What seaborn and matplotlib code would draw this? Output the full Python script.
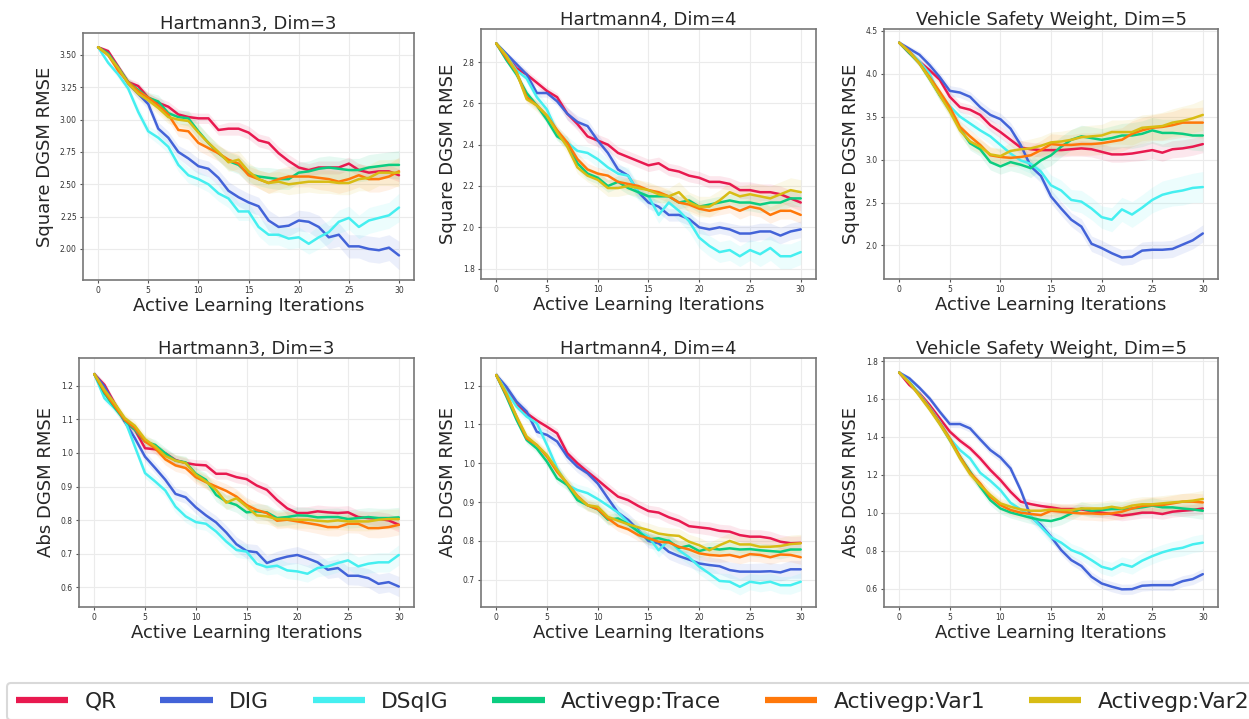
import numpy as np
import pandas as pd
import matplotlib
matplotlib.use("Agg")
import matplotlib.pyplot as plt
from matplotlib.lines import Line2D
import seaborn as sns

# ---------------- data ----------------
iterations = list(range(31))
methods = ["QR", "DIG", "DSqIG", "Activegp:Trace", "Activegp:Var1", "Activegp:Var2"]
colors = ["#E8194F", "#4363D8", "#45EFF0", "#0BCD80", "#FF780A", "#D8BC14"]
titles = ["Hartmann3, Dim=3", "Hartmann4, Dim=4", "Vehicle Safety Weight, Dim=5"]
ylabels = ["Square DGSM RMSE", "Abs DGSM RMSE"]
xlabel = "Active Learning Iterations"

# Square DGSM RMSE, Hartmann3
sq_h3_qr    = [3.56,3.53,3.41,3.29,3.26,3.17,3.13,3.10,3.04,3.02,3.01,3.01,2.92,2.93,2.93,2.90,2.84,2.82,2.74,2.68,2.63,2.61,2.63,2.63,2.63,2.66,2.61,2.59,2.60,2.60,2.57]
sq_h3_dig   = [3.56,3.51,3.40,3.28,3.20,3.12,2.93,2.86,2.75,2.70,2.64,2.62,2.55,2.45,2.40,2.36,2.33,2.22,2.17,2.18,2.22,2.21,2.17,2.09,2.11,2.02,2.02,2.00,1.99,2.01,1.95]
sq_h3_dsqig = [3.56,3.44,3.35,3.24,3.06,2.91,2.86,2.79,2.65,2.57,2.54,2.50,2.43,2.39,2.29,2.29,2.17,2.11,2.11,2.08,2.09,2.04,2.09,2.13,2.21,2.24,2.17,2.22,2.24,2.26,2.32]
sq_h3_trace = [3.56,3.51,3.40,3.29,3.23,3.17,3.14,3.05,3.02,3.01,2.91,2.82,2.74,2.68,2.65,2.58,2.56,2.55,2.54,2.54,2.59,2.60,2.62,2.63,2.62,2.61,2.61,2.63,2.64,2.65,2.65]
sq_h3_var1  = [3.56,3.50,3.38,3.29,3.22,3.17,3.11,3.04,2.92,2.91,2.82,2.78,2.74,2.69,2.66,2.57,2.54,2.51,2.54,2.56,2.56,2.56,2.55,2.54,2.52,2.54,2.57,2.54,2.54,2.56,2.60]
sq_h3_var2  = [3.56,3.50,3.40,3.28,3.20,3.15,3.09,3.02,3.00,2.99,2.90,2.82,2.75,2.67,2.69,2.60,2.54,2.51,2.52,2.50,2.51,2.52,2.52,2.52,2.51,2.51,2.54,2.55,2.59,2.59,2.59]

# Square DGSM RMSE, Hartmann4
sq_h4_qr    = [2.89,2.83,2.77,2.74,2.70,2.66,2.63,2.55,2.50,2.44,2.42,2.40,2.36,2.34,2.32,2.30,2.31,2.28,2.27,2.25,2.24,2.22,2.22,2.21,2.18,2.18,2.17,2.17,2.16,2.14,2.12]
sq_h4_dig   = [2.89,2.84,2.79,2.74,2.65,2.65,2.61,2.55,2.51,2.49,2.42,2.36,2.28,2.25,2.17,2.12,2.10,2.06,2.06,2.04,2.00,1.99,2.00,1.99,1.97,1.97,1.98,1.98,1.96,1.98,1.99]
sq_h4_dsqig = [2.89,2.83,2.76,2.72,2.63,2.57,2.46,2.41,2.37,2.36,2.33,2.29,2.26,2.25,2.17,2.15,2.06,2.12,2.08,2.03,1.95,1.91,1.88,1.89,1.86,1.89,1.87,1.90,1.86,1.86,1.88]
sq_h4_trace = [2.89,2.81,2.74,2.65,2.59,2.52,2.44,2.41,2.31,2.26,2.24,2.20,2.22,2.19,2.17,2.15,2.15,2.15,2.12,2.13,2.10,2.11,2.12,2.13,2.12,2.12,2.11,2.12,2.12,2.14,2.14]
sq_h4_var1  = [2.89,2.82,2.75,2.63,2.59,2.54,2.47,2.41,2.33,2.28,2.26,2.25,2.22,2.21,2.20,2.18,2.17,2.15,2.12,2.11,2.09,2.08,2.09,2.10,2.08,2.10,2.09,2.06,2.08,2.08,2.06]
sq_h4_var2  = [2.89,2.83,2.75,2.62,2.59,2.54,2.46,2.39,2.29,2.25,2.23,2.19,2.19,2.20,2.19,2.18,2.16,2.15,2.17,2.12,2.10,2.10,2.13,2.17,2.15,2.16,2.15,2.14,2.16,2.18,2.17]

# Square DGSM RMSE, Vehicle Safety Weight
sq_vs_qr    = [4.36,4.24,4.14,4.04,3.93,3.73,3.61,3.58,3.52,3.40,3.32,3.23,3.14,3.12,3.11,3.11,3.11,3.12,3.13,3.12,3.09,3.06,3.06,3.07,3.09,3.11,3.08,3.12,3.13,3.15,3.18]
sq_vs_dig   = [4.36,4.29,4.22,4.10,3.96,3.80,3.78,3.73,3.61,3.52,3.47,3.36,3.17,2.92,2.81,2.57,2.43,2.30,2.22,2.02,1.97,1.91,1.86,1.87,1.94,1.95,1.95,1.96,2.01,2.06,2.14]
sq_vs_dsqig = [4.36,4.26,4.14,4.00,3.75,3.62,3.50,3.42,3.34,3.27,3.17,3.07,2.99,2.95,2.86,2.70,2.64,2.53,2.51,2.43,2.33,2.30,2.42,2.36,2.44,2.53,2.59,2.62,2.64,2.67,2.68]
sq_vs_trace = [4.36,4.24,4.12,3.94,3.75,3.58,3.36,3.19,3.12,2.97,2.92,2.97,2.94,2.90,2.99,3.05,3.15,3.23,3.27,3.25,3.23,3.25,3.28,3.28,3.30,3.34,3.31,3.31,3.30,3.28,3.28]
sq_vs_var1  = [4.36,4.26,4.12,3.96,3.79,3.61,3.38,3.27,3.17,3.05,3.03,3.02,3.03,3.05,3.11,3.18,3.17,3.17,3.18,3.18,3.19,3.21,3.23,3.30,3.34,3.37,3.38,3.40,3.43,3.43,3.43]
sq_vs_var2  = [4.36,4.25,4.12,3.94,3.75,3.56,3.34,3.21,3.15,3.06,3.04,3.10,3.12,3.13,3.16,3.20,3.21,3.23,3.26,3.27,3.28,3.32,3.32,3.32,3.37,3.38,3.39,3.43,3.45,3.48,3.52]

# Abs DGSM RMSE, Hartmann3
ab_h3_qr    = [1.235,1.203,1.148,1.094,1.069,1.014,1.011,0.999,0.979,0.970,0.965,0.963,0.938,0.938,0.928,0.922,0.903,0.890,0.860,0.835,0.821,0.821,0.826,0.823,0.821,0.823,0.809,0.806,0.804,0.799,0.786]
ab_h3_dig   = [1.235,1.198,1.143,1.094,1.044,0.989,0.955,0.920,0.878,0.868,0.838,0.814,0.793,0.763,0.728,0.708,0.704,0.672,0.683,0.691,0.696,0.686,0.674,0.652,0.657,0.634,0.634,0.627,0.610,0.615,0.602]
ab_h3_dsqig = [1.235,1.163,1.133,1.099,1.019,0.940,0.915,0.888,0.840,0.811,0.794,0.789,0.766,0.736,0.711,0.706,0.670,0.660,0.664,0.650,0.647,0.640,0.657,0.662,0.672,0.680,0.662,0.670,0.674,0.674,0.696]
ab_h3_trace = [1.235,1.178,1.136,1.097,1.069,1.034,1.024,0.999,0.977,0.972,0.938,0.920,0.875,0.855,0.845,0.823,0.826,0.823,0.806,0.809,0.814,0.813,0.808,0.809,0.809,0.803,0.806,0.809,0.806,0.806,0.808]
ab_h3_var1  = [1.235,1.183,1.140,1.099,1.074,1.034,1.014,0.981,0.963,0.955,0.928,0.913,0.900,0.887,0.870,0.845,0.830,0.821,0.798,0.801,0.796,0.791,0.786,0.779,0.779,0.789,0.789,0.776,0.776,0.779,0.786]
ab_h3_var2  = [1.235,1.188,1.148,1.104,1.081,1.041,1.019,0.991,0.977,0.970,0.935,0.915,0.890,0.852,0.865,0.840,0.814,0.811,0.803,0.803,0.801,0.801,0.798,0.796,0.799,0.796,0.796,0.796,0.801,0.803,0.803]

# Abs DGSM RMSE, Hartmann4
ab_h4_qr    = [1.227,1.189,1.150,1.129,1.110,1.094,1.077,1.026,1.000,0.978,0.957,0.935,0.914,0.905,0.890,0.877,0.873,0.861,0.852,0.838,0.835,0.832,0.826,0.824,0.815,0.811,0.811,0.807,0.798,0.794,0.795]
ab_h4_dig   = [1.227,1.197,1.159,1.133,1.081,1.073,1.056,1.017,0.991,0.974,0.948,0.910,0.873,0.854,0.828,0.800,0.794,0.772,0.761,0.752,0.742,0.738,0.735,0.725,0.721,0.721,0.721,0.722,0.719,0.727,0.727]
ab_h4_dsqig = [1.227,1.185,1.146,1.120,1.103,1.047,0.987,0.944,0.931,0.923,0.908,0.891,0.873,0.847,0.825,0.811,0.776,0.802,0.776,0.758,0.734,0.716,0.697,0.695,0.682,0.695,0.691,0.695,0.686,0.686,0.695]
ab_h4_trace = [1.227,1.172,1.112,1.060,1.038,1.004,0.961,0.944,0.905,0.892,0.881,0.855,0.858,0.843,0.824,0.804,0.807,0.800,0.782,0.788,0.774,0.781,0.778,0.781,0.778,0.779,0.776,0.774,0.772,0.778,0.778]
ab_h4_var1  = [1.227,1.176,1.120,1.064,1.047,1.017,0.978,0.948,0.916,0.892,0.882,0.858,0.839,0.830,0.815,0.807,0.798,0.796,0.785,0.778,0.768,0.764,0.762,0.764,0.758,0.766,0.764,0.758,0.765,0.764,0.758]
ab_h4_var2  = [1.227,1.180,1.120,1.069,1.047,1.021,0.983,0.948,0.914,0.892,0.888,0.862,0.852,0.843,0.835,0.828,0.819,0.815,0.813,0.798,0.789,0.776,0.789,0.800,0.791,0.791,0.785,0.785,0.787,0.792,0.794]

# Abs DGSM RMSE, Vehicle Safety Weight
ab_vs_qr    = [1.739,1.674,1.630,1.568,1.498,1.428,1.380,1.340,1.287,1.226,1.173,1.111,1.059,1.046,1.036,1.029,1.020,1.020,1.018,1.009,1.001,0.994,0.985,0.992,1.001,1.001,0.994,1.006,1.011,1.015,1.023]
ab_vs_dig   = [1.739,1.709,1.659,1.603,1.533,1.468,1.468,1.445,1.387,1.331,1.292,1.234,1.120,0.980,0.936,0.874,0.804,0.751,0.720,0.663,0.628,0.611,0.597,0.598,0.616,0.619,0.619,0.619,0.640,0.651,0.677]
ab_vs_dsqig = [1.739,1.691,1.626,1.556,1.480,1.392,1.331,1.287,1.211,1.169,1.120,1.053,1.018,0.983,0.927,0.871,0.843,0.804,0.783,0.751,0.716,0.702,0.730,0.716,0.748,0.772,0.792,0.807,0.816,0.834,0.843]
ab_vs_trace = [1.739,1.686,1.621,1.551,1.471,1.384,1.296,1.217,1.138,1.067,1.023,1.002,0.988,0.974,0.962,0.957,0.971,0.997,1.023,1.011,1.015,1.020,1.020,1.023,1.029,1.038,1.029,1.029,1.023,1.018,1.011]
ab_vs_var1  = [1.739,1.686,1.621,1.551,1.475,1.392,1.296,1.211,1.155,1.085,1.041,1.015,1.001,0.994,0.988,1.011,1.006,1.001,0.997,0.997,0.994,0.997,1.006,1.023,1.036,1.041,1.041,1.050,1.059,1.059,1.055]
ab_vs_var2  = [1.739,1.686,1.616,1.545,1.468,1.384,1.287,1.204,1.146,1.094,1.050,1.032,1.018,1.011,1.011,1.018,1.015,1.015,1.023,1.023,1.023,1.032,1.023,1.038,1.045,1.045,1.050,1.055,1.059,1.064,1.073]

# confidence band half-widths (estimated), narrow / wide per panel
sq_h3_band_n = [0.01,0.02,0.02,0.03,0.03,0.03,0.04,0.04,0.04,0.04,0.04,0.04,0.04,0.05,0.05,0.05,0.05,0.05,0.05,0.05,0.05,0.05,0.05,0.05,0.05,0.05,0.05,0.05,0.05,0.05,0.05]
sq_h3_band_w = [0.01,0.02,0.03,0.03,0.04,0.04,0.05,0.05,0.05,0.06,0.06,0.06,0.06,0.07,0.07,0.07,0.07,0.08,0.08,0.08,0.08,0.08,0.09,0.09,0.09,0.09,0.09,0.10,0.10,0.10,0.11]
sq_h4_band_n = [0.01,0.01,0.02,0.02,0.02,0.02,0.02,0.03,0.03,0.03,0.03,0.03,0.03,0.03,0.03,0.03,0.03,0.03,0.03,0.03,0.03,0.03,0.03,0.03,0.04,0.04,0.04,0.04,0.04,0.04,0.04]
sq_h4_band_w = [0.01,0.02,0.02,0.02,0.03,0.03,0.03,0.03,0.03,0.03,0.04,0.04,0.04,0.04,0.04,0.04,0.04,0.04,0.05,0.05,0.05,0.05,0.05,0.05,0.05,0.05,0.06,0.06,0.06,0.06,0.06]
sq_vs_band_n = [0.02,0.03,0.04,0.05,0.05,0.06,0.06,0.06,0.07,0.07,0.07,0.07,0.08,0.08,0.08,0.08,0.08,0.08,0.09,0.09,0.09,0.09,0.09,0.09,0.10,0.10,0.10,0.10,0.10,0.10,0.10]
sq_vs_band_w = [0.02,0.03,0.04,0.05,0.06,0.07,0.07,0.08,0.08,0.09,0.09,0.10,0.10,0.11,0.11,0.12,0.12,0.12,0.13,0.13,0.13,0.14,0.14,0.15,0.15,0.15,0.16,0.16,0.17,0.17,0.18]
ab_h3_band_n = [0.008,0.010,0.010,0.012,0.012,0.012,0.014,0.014,0.014,0.015,0.015,0.016,0.016,0.016,0.017,0.017,0.017,0.018,0.018,0.018,0.018,0.019,0.019,0.019,0.020,0.020,0.020,0.020,0.021,0.021,0.021]
ab_h3_band_w = [0.008,0.010,0.012,0.013,0.014,0.015,0.016,0.017,0.018,0.018,0.019,0.020,0.020,0.021,0.022,0.022,0.023,0.023,0.024,0.024,0.025,0.025,0.026,0.026,0.027,0.027,0.028,0.028,0.029,0.029,0.030]
ab_h4_band_n = [0.008,0.009,0.010,0.010,0.011,0.012,0.012,0.013,0.013,0.013,0.014,0.014,0.014,0.015,0.015,0.015,0.015,0.016,0.016,0.016,0.016,0.017,0.017,0.017,0.017,0.018,0.018,0.018,0.018,0.018,0.018]
ab_h4_band_w = [0.008,0.010,0.011,0.012,0.013,0.014,0.014,0.015,0.015,0.016,0.016,0.017,0.017,0.017,0.018,0.018,0.018,0.019,0.019,0.019,0.020,0.020,0.020,0.021,0.021,0.021,0.022,0.022,0.022,0.023,0.023]
ab_vs_band_n = [0.010,0.012,0.014,0.016,0.017,0.018,0.019,0.020,0.021,0.022,0.022,0.023,0.023,0.024,0.024,0.025,0.025,0.025,0.026,0.026,0.026,0.027,0.027,0.027,0.028,0.028,0.028,0.029,0.029,0.029,0.030]
ab_vs_band_w = [0.010,0.013,0.016,0.018,0.020,0.022,0.023,0.025,0.026,0.027,0.028,0.029,0.030,0.031,0.032,0.033,0.034,0.034,0.035,0.036,0.037,0.037,0.038,0.039,0.040,0.041,0.041,0.042,0.043,0.044,0.045]

panels = [
    (0, 0, [sq_h3_qr, sq_h3_dig, sq_h3_dsqig, sq_h3_trace, sq_h3_var1, sq_h3_var2],
     [sq_h3_band_n, sq_h3_band_w, sq_h3_band_w, sq_h3_band_w, sq_h3_band_w, sq_h3_band_w],
     (1.76, 3.67), [2.00, 2.25, 2.50, 2.75, 3.00, 3.25, 3.50], "{:.2f}"),
    (0, 1, [sq_h4_qr, sq_h4_dig, sq_h4_dsqig, sq_h4_trace, sq_h4_var1, sq_h4_var2],
     [sq_h4_band_n, sq_h4_band_n, sq_h4_band_w, sq_h4_band_n, sq_h4_band_n, sq_h4_band_w],
     (1.75, 2.96), [1.8, 2.0, 2.2, 2.4, 2.6, 2.8], "{:.1f}"),
    (0, 2, [sq_vs_qr, sq_vs_dig, sq_vs_dsqig, sq_vs_trace, sq_vs_var1, sq_vs_var2],
     [sq_vs_band_n, sq_vs_band_n, sq_vs_band_w, sq_vs_band_w, sq_vs_band_w, sq_vs_band_w],
     (1.61, 4.52), [2.0, 2.5, 3.0, 3.5, 4.0, 4.5], "{:.1f}"),
    (1, 0, [ab_h3_qr, ab_h3_dig, ab_h3_dsqig, ab_h3_trace, ab_h3_var1, ab_h3_var2],
     [ab_h3_band_n, ab_h3_band_w, ab_h3_band_w, ab_h3_band_w, ab_h3_band_w, ab_h3_band_w],
     (0.541, 1.283), [0.6, 0.7, 0.8, 0.9, 1.0, 1.1, 1.2], "{:.1f}"),
    (1, 1, [ab_h4_qr, ab_h4_dig, ab_h4_dsqig, ab_h4_trace, ab_h4_var1, ab_h4_var2],
     [ab_h4_band_n, ab_h4_band_w, ab_h4_band_w, ab_h4_band_n, ab_h4_band_n, ab_h4_band_w],
     (0.63, 1.271), [0.7, 0.8, 0.9, 1.0, 1.1, 1.2], "{:.1f}"),
    (1, 2, [ab_vs_qr, ab_vs_dig, ab_vs_dsqig, ab_vs_trace, ab_vs_var1, ab_vs_var2],
     [ab_vs_band_n, ab_vs_band_n, ab_vs_band_w, ab_vs_band_w, ab_vs_band_w, ab_vs_band_w],
     (0.504, 1.816), [0.6, 0.8, 1.0, 1.2, 1.4, 1.6, 1.8], "{:.1f}"),
]

# ---------------- style ----------------
sns.set_theme(style="whitegrid", rc={
    "axes.edgecolor": "#777777",
    "axes.linewidth": 1.2,
    "grid.color": "#ebebeb",
    "grid.linewidth": 0.8,
    "xtick.color": "#555555",
    "ytick.color": "#555555",
})
plt.rcParams["font.family"] = ["DejaVu Sans"]

palette = dict(zip(methods, colors))

fig = plt.figure(figsize=(12.49, 7.19), dpi=100)
positions = {
    (0, 0): [0.0665, 0.6106, 0.2650, 0.3435],
    (0, 1): [0.3851, 0.6120, 0.2682, 0.3477],
    (0, 2): [0.7078, 0.6120, 0.2674, 0.3477],
    (1, 0): [0.0633, 0.1558, 0.2682, 0.3463],
    (1, 1): [0.3851, 0.1558, 0.2682, 0.3463],
    (1, 2): [0.7078, 0.1558, 0.2674, 0.3463],
}

for (r, c, series, bands, ylim, yticks, fmt) in panels:
    ax = fig.add_axes(positions[(r, c)])
    rows = []
    for m, vals in zip(methods, series):
        for x, v in zip(iterations, vals):
            rows.append({"iter": x, "rmse": v, "method": m})
    df = pd.DataFrame(rows)
    sns.lineplot(data=df, x="iter", y="rmse", hue="method", hue_order=methods,
                 palette=palette, linewidth=1.8, legend=False, ax=ax)
    for m, vals, bw in zip(methods, series, bands):
        v = np.asarray(vals)
        b = np.asarray(bw)
        ax.fill_between(iterations, v - b, v + b, color=palette[m], alpha=0.1, linewidth=0)
    ax.set_xlim(-1.5, 31.5)
    ax.set_ylim(*ylim)
    ax.set_xticks([0, 5, 10, 15, 20, 25, 30])
    ax.set_yticks(yticks)
    ax.set_yticklabels([fmt.format(t) for t in yticks])
    ax.tick_params(axis="both", labelsize=5.5, labelcolor="#333333", pad=2,
                   length=2.5, width=0.8, color="#555555", bottom=True, left=True)
    ax.set_title(titles[c], fontsize=13, pad=3)
    ax.set_xlabel(xlabel, fontsize=13, labelpad=1)
    ax.set_ylabel(ylabels[r], fontsize=13, labelpad=4)
    for s in ax.spines.values():
        s.set_visible(True)
        s.set_color("#777777")
        s.set_linewidth(1.2)

handles = [Line2D([0], [0], color=col, linewidth=4.5, solid_capstyle="butt") for col in colors]
leg = fig.legend(handles, methods, loc="upper left", bbox_to_anchor=(0.0056, 0.05),
                 ncol=6, fontsize=15.7, frameon=True, fancybox=True,
                 handlelength=2.4, handletextpad=0.75, columnspacing=2.0,
                 borderpad=0.4, borderaxespad=0.0)
leg.get_frame().set_edgecolor("#d0d0d0")
leg.get_frame().set_linewidth(1.5)

fig.savefig("out.png", dpi=100)
